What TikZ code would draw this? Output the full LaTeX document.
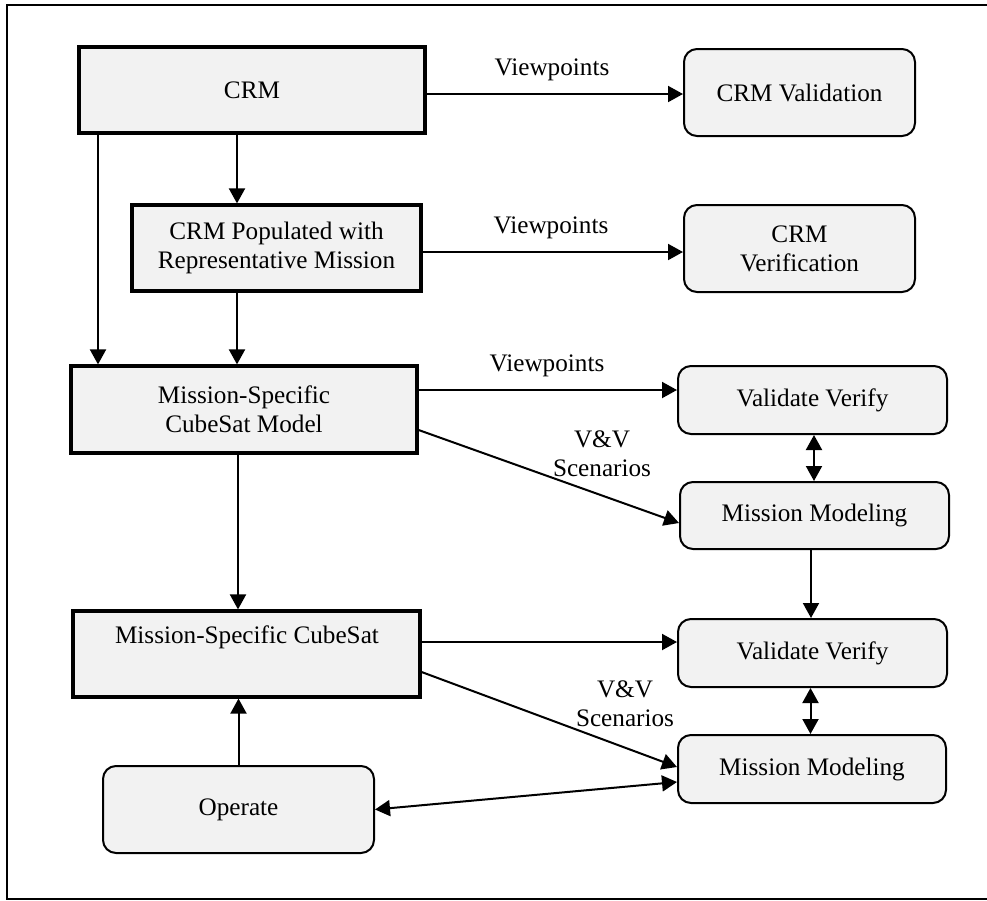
\documentclass[tikz,border=0pt]{standalone}
\usepackage{fontspec}
\setmainfont{Liberation Serif}
\usetikzlibrary{arrows.meta,calc}
\begin{document}
\begin{tikzpicture}[x=0.5pt,y=-0.5pt,
  font=\fontsize{12.6}{14.6}\selectfont,
  sqbox/.style={draw=black,line width=1.6pt,fill=black!5,rectangle,inner sep=0pt,align=center},
  rbox/.style={draw=black,line width=1pt,fill=black!5,rectangle,rounded corners=6.5pt,inner sep=0pt,align=center},
  arr/.style={line width=1pt,-{Triangle[length=7.5pt,width=8pt]}},
  darr/.style={line width=1pt,{Triangle[length=7.5pt,width=8pt]}-{Triangle[length=7.5pt,width=8pt]}},
  lbl/.style={inner sep=0pt,align=center}]
\useasboundingbox (0,0) rectangle (987,901);
% frame (right side cut off)
\draw[line width=1pt] (987,5) -- (7,5) -- (7,899) -- (987,899);

% nodes
\node[sqbox,minimum width=173pt,minimum height=43pt] (crm) at (252,90) {CRM};
\node[rbox,minimum width=115.5pt,minimum height=43.5pt] (crmval) at (799.5,92.5) {CRM Validation};
\node[sqbox,minimum width=144.5pt,minimum height=43pt] (pop) at (276.5,248) {CRM Populated with\\Representative Mission};
\node[rbox,minimum width=115.5pt,minimum height=43.5pt] (crmver) at (799.5,248.5) {CRM\\Verification};
\node[sqbox,minimum width=173pt,minimum height=43.5pt] (mscm) at (244,409.5) {Mission-Specific\\CubeSat Model};
\node[rbox,minimum width=134.5pt,minimum height=34pt] (vv1) at (812.5,400) {Validate Verify};
\node[rbox,minimum width=134.5pt,minimum height=33.5pt] (mm1) at (814.5,515.5) {Mission Modeling};
\node[sqbox,minimum width=173.5pt,minimum height=43pt] (msc) at (246.5,654) {};
\node[lbl] (msctext) at (247,637) {Mission-Specific CubeSat};
\node[rbox,minimum width=134.5pt,minimum height=34pt] (vv2) at (812.5,653) {Validate Verify};
\node[rbox,minimum width=134pt,minimum height=34pt] (mm2) at (812,769) {Mission Modeling};
\node[rbox,minimum width=135.5pt,minimum height=43.5pt] (op) at (238.5,809.5) {Operate};

% labels
\node[lbl] (l1) at (552,70) {Viewpoints};
\node[lbl] (l2) at (551,228) {Viewpoints};
\node[lbl] (l3) at (547,366) {Viewpoints};
\node[lbl] (l4) at (602,454) {V\&V\\Scenarios};
\node[lbl] (l5) at (625,704) {V\&V\\Scenarios};

% helper coordinates
\coordinate (c1) at ([xshift=-7.5pt]crm.south);
\coordinate (c2) at ([xshift=-77pt]crm.south);
\coordinate (c3) at ([xshift=-3pt]mscm.south);

% connectors
\draw[arr] ([yshift=-2pt]crm.east) -- ([yshift=-2pt]crm.east -| crmval.west);
\draw[arr] ([yshift=-2pt]pop.east) -- ([yshift=-2pt]pop.east -| crmver.west);
\draw[arr] (c1) -- (c1 |- pop.north);
\draw[arr] (c2) -- (c2 |- mscm.north);
\draw[arr] (c1 |- pop.south) -- (c1 |- mscm.north);
\draw[arr] ([yshift=9.75pt]mscm.east) -- ([yshift=9.75pt]mscm.east -| vv1.west);
\draw[arr] ([yshift=-10.25pt]mscm.east) -- ([yshift=-3.75pt]mm1.west);
\draw[darr] ([xshift=0.75pt]vv1.south) -- ([xshift=0.75pt]vv1.south |- mm1.north);
\draw[arr] (c3) -- (c3 |- msc.north);
\draw[arr] ([xshift=-0.75pt]vv2.north |- mm1.south) -- ([xshift=-0.75pt]vv2.north);
\draw[arr] ([yshift=6pt]msc.east) -- ([yshift=6pt]msc.east -| vv2.west);
\draw[arr] ([yshift=-9pt]msc.east) -- ([yshift=1pt]mm2.west);
\draw[darr] ([xshift=-1pt]vv2.south) -- ([xshift=-1pt]vv2.south |- mm2.north);
\draw[arr] (op.north) -- (op.north |- msc.south);
\draw[darr] (op.east) -- ([yshift=-6.5pt]mm2.west);
\end{tikzpicture}
\end{document}
